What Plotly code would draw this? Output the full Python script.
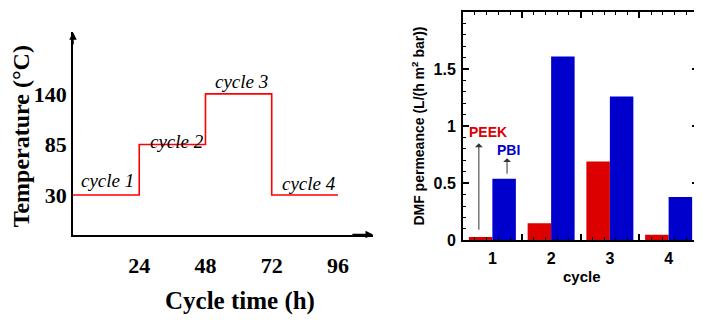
import plotly.graph_objects as go

# ---- Left panel data (temperature program) ----
cycle_bounds_h = [0, 24, 48, 72, 96]
cycle_temps_c = [30, 85, 140, 30]
cycle_names = ["cycle 1", "cycle 2", "cycle 3", "cycle 4"]
left_xticks = [24, 48, 72, 96]
left_yticks = [30, 85, 140]

# ---- Right panel data (DMF permeance) ----
cycles = [1, 2, 3, 4]
peek_perm = [0.03, 0.15, 0.69, 0.05]
pbi_perm = [0.54, 1.61, 1.26, 0.38]
right_yticks = [0, 0.5, 1, 1.5, 2]
right_yticktext = ["0", "0.5", "1", "1.5", "2"]

SERIF = "Liberation Serif"
SANS = "Liberation Sans"
RED_BAR = "#dd0000"
BLUE_BAR = "#0000cc"

W, H = 702, 325
OFF = 8  # page body margin offset


def px(x):
    return (x - OFF) / W


def py(y):
    return 1 - (y - OFF) / H


fig = go.Figure()

# step line
fig.add_trace(go.Scatter(
    x=cycle_bounds_h, y=cycle_temps_c + [cycle_temps_c[-1]],
    mode="lines", line=dict(color="#ff0000", width=1.6, shape="hv"),
    xaxis="x", yaxis="y", showlegend=False, hoverinfo="skip"))

# bars
fig.add_trace(go.Bar(x=cycles, y=peek_perm, marker=dict(color=RED_BAR, line=dict(width=0)),
                     xaxis="x2", yaxis="y2", showlegend=False, name="PEEK"))
fig.add_trace(go.Bar(x=cycles, y=pbi_perm, marker=dict(color=BLUE_BAR, line=dict(width=0)),
                     xaxis="x2", yaxis="y2", showlegend=False, name="PBI"))
# invisible trace to realise tick overlay axis
fig.add_trace(go.Scatter(x=[1], y=[0], mode="markers", marker=dict(opacity=0),
                         xaxis="x3", yaxis="y2", showlegend=False, hoverinfo="skip"))

lx0, lx1 = 73, 373
ly_bot, ly_top = 241, 33
x_slope = 2.76
x_max = (lx1 - lx0) / x_slope
y_lo, y_hi = -13, 207


def ldata_y(p):
    return y_lo + (ly_bot - p) * (y_hi - y_lo) / (ly_bot - ly_top)


def ldata_x(p):
    return (p - lx0) / x_slope


rx0, rx1 = 463, 698
ry_bot, ry_top = 247, 12

annotations = []
# axis arrows (left)
annotations.append(dict(x=x_max, y=y_lo, ax=x_max - 8, ay=y_lo, xref="x", yref="y",
                        axref="x", ayref="y", text="", showarrow=True, arrowhead=2,
                        arrowsize=1, arrowwidth=1.5, arrowcolor="black", standoff=0))
annotations.append(dict(x=0, y=y_hi, ax=0, ay=y_hi - 15, xref="x", yref="y",
                        axref="x", ayref="y", text="", showarrow=True, arrowhead=2,
                        arrowsize=1, arrowwidth=1.5, arrowcolor="black", standoff=0))
# cycle labels (pixel centres)
cyc_label_px = [(107, 185), (177, 145), (241, 84), (309, 189)]
for name, (cx, cy) in zip(cycle_names, cyc_label_px):
    annotations.append(dict(x=ldata_x(cx), y=ldata_y(cy), xref="x", yref="y", text=name,
                            showarrow=False, xanchor="center", yanchor="middle",
                            font=dict(family=SERIF, size=19, style="italic", color="black")))
# left titles
annotations.append(dict(x=px(240), y=py(309), xref="paper", yref="paper",
                        xanchor="center", yanchor="middle",
                        text="Cycle time (h)", showarrow=False,
                        font=dict(family=SERIF, size=25, weight="bold", color="black")))
annotations.append(dict(x=px(21), y=py(140), xref="paper", yref="paper",
                        xanchor="center", yanchor="middle",
                        text="Temperature (°C)", showarrow=False, textangle=-90,
                        font=dict(family=SERIF, size=24, weight="bold", color="black")))
# right titles
annotations.append(dict(x=px(582), y=py(284), xref="paper", yref="paper",
                        xanchor="center", yanchor="middle",
                        text="cycle", showarrow=False,
                        font=dict(family=SANS, size=15, weight="bold", color="black")))
annotations.append(dict(x=px(418), y=py(130), xref="paper", yref="paper",
                        xanchor="center", yanchor="middle",
                        text="DMF permeance (L/(h m<sup>2</sup> bar))", showarrow=False,
                        textangle=-90,
                        font=dict(family=SANS, size=14, weight="bold", color="black")))
# PEEK / PBI labels and arrows
annotations.append(dict(x=0.92, y=0.95, xref="x2", yref="y2", text="PEEK", showarrow=False,
                        xanchor="center", yanchor="middle",
                        font=dict(family=SANS, size=14, weight="bold", color=RED_BAR)))
annotations.append(dict(x=1.27, y=0.79, xref="x2", yref="y2", text="PBI", showarrow=False,
                        xanchor="center", yanchor="middle",
                        font=dict(family=SANS, size=14, weight="bold", color=BLUE_BAR)))
annotations.append(dict(x=0.77, y=0.85, ax=0.77, ay=0.08, xref="x2", yref="y2",
                        axref="x2", ayref="y2", text="", showarrow=True, arrowhead=1,
                        arrowsize=1.3, arrowwidth=1, arrowcolor="#333333", standoff=0))
annotations.append(dict(x=1.25, y=0.72, ax=1.25, ay=0.57, xref="x2", yref="y2",
                        axref="x2", ayref="y2", text="", showarrow=True, arrowhead=1,
                        arrowsize=1.3, arrowwidth=1, arrowcolor="#333333", standoff=0))

fig.update_layout(
    width=W, height=H, autosize=False,
    margin=dict(l=0, r=0, t=0, b=0),
    paper_bgcolor="white", plot_bgcolor="white",
    barmode="group", bargap=0.2, bargroupgap=0,
    annotations=annotations,
    xaxis=dict(domain=[px(lx0), px(lx1)], range=[0, x_max], anchor="y",
               showgrid=False, zeroline=False, showline=True, linecolor="black", linewidth=1.5,
               tickvals=left_xticks, ticktext=[str(v) for v in left_xticks], ticks="",
               ticklabelstandoff=10,
               tickfont=dict(family=SERIF, size=22, weight="bold", color="black")),
    yaxis=dict(domain=[py(ly_bot), py(ly_top)], range=[y_lo, y_hi], anchor="x",
               showgrid=False, zeroline=False, showline=True, linecolor="black", linewidth=1.5,
               tickvals=left_yticks, ticktext=[str(v) for v in left_yticks], ticks="",
               ticklabelstandoff=0,
               tickfont=dict(family=SERIF, size=22, weight="bold", color="black")),
    xaxis2=dict(domain=[px(rx0), px(rx1)], range=[0.5, 4.5], anchor="y2",
                showgrid=False, zeroline=False, showline=True, mirror=True,
                linecolor="black", linewidth=2,
                tickvals=cycles, ticktext=[str(c) for c in cycles], ticks="",
                ticklabelstandoff=2,
                tickfont=dict(family=SANS, size=16, weight="bold", color="black")),
    xaxis3=dict(domain=[px(rx0), px(rx1)], range=[0.5, 4.5], anchor="y2", overlaying="x2",
                showgrid=False, zeroline=False, showline=False, mirror="ticks",
                tickvals=[1.5, 2.5, 3.5], showticklabels=False,
                ticks="inside", ticklen=6, tickwidth=1.5, tickcolor="black",
                minor=dict(tick0=0.5, dtick=0.2, ticks="inside", ticklen=3, tickwidth=1.2,
                           tickcolor="black", showgrid=False)),
    yaxis2=dict(domain=[py(ry_bot), py(ry_top)], range=[0, 2], anchor="x2",
                showgrid=False, zeroline=False, showline=True, mirror="ticks",
                linecolor="black", linewidth=2,
                tickvals=right_yticks, ticktext=right_yticktext,
                ticks="inside", ticklen=6, tickwidth=1.5, tickcolor="black",
                ticklabelstandoff=2,
                minor=dict(dtick=0.1, ticks="inside", ticklen=3, tickwidth=1.2,
                           tickcolor="black", showgrid=False),
                tickfont=dict(family=SANS, size=16, weight="bold", color="black")),
)

fig.write_html("out.html")
